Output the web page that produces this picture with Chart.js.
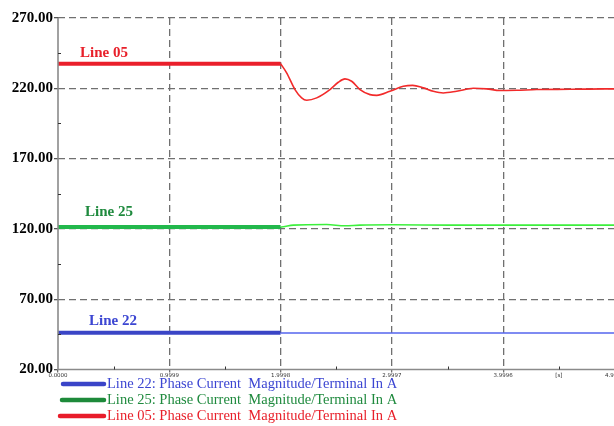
<!DOCTYPE html>
<html><head><meta charset="utf-8">
<script src="https://cdn.jsdelivr.net/npm/chart.js@4.4.1/dist/chart.umd.min.js"></script>
<style>html,body{margin:0;padding:0;overflow:hidden;background:#fff}#wrap{width:640px;height:426px}</style>
</head><body><div id="wrap"><canvas id="c" width="640" height="426"></canvas></div>
<script>
// ---- data ----
const timePre = [0, 1.9998];
const line05Pre = [237.5, 237.5];
const line25Pre = [121.3, 121.3];
const line22Pre = [46.2, 46.2];

const timePost05 = [1.9998, 2.054, 2.129, 2.189, 2.234, 2.324, 2.443, 2.518, 2.578, 2.638, 2.713, 2.803, 2.863, 2.982, 3.102, 3.186, 3.282, 3.371, 3.461, 3.581, 3.731, 3.851, 3.970, 4.120, 4.300, 4.599, 4.898, 4.9995];
const line05Post = [237.5, 231, 219.1, 213.2, 211.5, 213.2, 219.1, 224.3, 226.7, 225, 219.1, 215.5, 215, 217.9, 221.4, 222.1, 220.3, 217.9, 216.7, 217.9, 220, 219.6, 218.4, 218.6, 219.1, 219.3, 219.6, 219.6];

const timePost25 = [1.9998, 2.024, 2.114, 2.414, 2.578, 2.713, 3.012, 3.521, 4.9995];
const line25Post = [121.3, 121.5, 122.7, 123.1, 122.2, 122.7, 122.9, 122.7, 122.7];

const timePost22 = [1.9998, 4.9995];
const line22Post = [46.0, 46.0];

const yTickValues = [20, 70, 120, 170, 220, 270];
const yMinorValues = [45, 95, 145, 195, 245];
const xTickValues = [0, 0.9999, 1.9998, 2.9997, 3.9996, 4.49955, 4.9995];
const xTickLabels = ['0.0000', '0.9999', '1.9998', '2.9997', '3.9996', '[s]', '4.9995'];
const xMinorValues = [0.49995, 1.49985, 2.49975, 3.49965, 4.49955];

const seriesTags = ['Line 22', 'Line 25', 'Line 05'];
const legendNames = ['Line 22: Phase Current  Magnitude/Terminal In A',
                     'Line 25: Phase Current  Magnitude/Terminal In A',
                     'Line 05: Phase Current  Magnitude/Terminal In A'];

// ---- styling ----
const COL = {
  red: '#ea1f2b', redThin: '#f22a2a',
  green: '#22b84c', greenThin: '#3cf03c',
  blue: '#3a45c6', blueThin: '#5565ee',
  txtBlue: '#3c46d2', txtGreen: '#1f8a3e', txtRed: '#e8202a',
  legBlue: '#3a44c8', legGreen: '#1d8a3a', legRed: '#e81c2a'
};
const GRID = '#707070';
const SERIF = '"Liberation Serif", "Times New Roman", serif';

const pts = (xs, ys) => xs.map((x, i) => ({x, y: ys[i]}));

const datasets = [
  {data: pts(timePre, line05Pre), borderColor: COL.red, borderWidth: 4},
  {data: pts(timePost05, line05Post), borderColor: COL.redThin, borderWidth: 1.6, cubicInterpolationMode: 'monotone'},
  {data: pts(timePre, line25Pre), borderColor: COL.green, borderWidth: 4},
  {data: pts(timePost25, line25Post), borderColor: COL.greenThin, borderWidth: 1.6, cubicInterpolationMode: 'monotone'},
  {data: pts(timePre, line22Pre), borderColor: COL.blue, borderWidth: 4},
  {data: pts(timePost22, line22Post), borderColor: COL.blueThin, borderWidth: 1.6}
].map(d => Object.assign({pointRadius: 0, fill: false, borderCapStyle: 'butt'}, d));

const decor = {
  id: 'decor',
  afterDraw(chart) {
    const {ctx, chartArea: a, scales: {x, y}} = chart;
    ctx.save();
    // solid axes
    ctx.strokeStyle = '#8a8a8a';
    ctx.lineWidth = 1.6;
    ctx.setLineDash([]);
    ctx.beginPath();
    ctx.moveTo(a.left, a.top); ctx.lineTo(a.left, a.bottom); ctx.lineTo(a.right, a.bottom);
    ctx.stroke();
    // minor ticks
    ctx.strokeStyle = '#333';
    ctx.lineWidth = 1;
    ctx.beginPath();
    yMinorValues.forEach(v => { const py = Math.round(y.getPixelForValue(v)) + 0.5; ctx.moveTo(a.left, py); ctx.lineTo(a.left + 3, py); });
    xMinorValues.forEach(v => { const px = Math.round(x.getPixelForValue(v)) + 0.5; ctx.moveTo(px, a.bottom); ctx.lineTo(px, a.bottom - 3); });
    ctx.stroke();
    // series tags
    ctx.font = 'bold 15px ' + SERIF;
    ctx.textBaseline = 'middle';
    ctx.textAlign = 'left';
    const tags = [
      {t: seriesTags[2], c: COL.txtRed, xv: 0.198, yv: 245.2},
      {t: seriesTags[1], c: COL.txtGreen, xv: 0.243, yv: 131.6},
      {t: seriesTags[0], c: COL.txtBlue, xv: 0.279, yv: 54.6}
    ];
    tags.forEach(g => { ctx.fillStyle = g.c; ctx.fillText(g.t, x.getPixelForValue(g.xv), y.getPixelForValue(g.yv)); });
    // legend
    const legCols = [COL.legBlue, COL.legGreen, COL.legRed];
    const txtCols = [COL.txtBlue, COL.txtGreen, COL.txtRed];
    const rows = [384, 400, 416];
    const starts = [63, 62, 60];
    ctx.font = '14.5px ' + SERIF;
    legendNames.forEach((n, i) => {
      ctx.strokeStyle = legCols[i];
      ctx.lineWidth = 4.5;
      ctx.lineCap = 'round';
      ctx.beginPath(); ctx.moveTo(starts[i], rows[i]); ctx.lineTo(104, rows[i]); ctx.stroke();
      ctx.fillStyle = txtCols[i];
      ctx.fillText(n, 107, rows[i]);
    });
    ctx.restore();
  }
};

new Chart(document.getElementById('c'), {
  type: 'line',
  data: {datasets},
  options: {
    responsive: false,
    animation: false,
    devicePixelRatio: 1,
    layout: {padding: {top: 18, right: 25.5, left: 0, bottom: 0}},
    plugins: {legend: {display: false}, tooltip: {enabled: false}},
    scales: {
      x: {
        type: 'linear', min: 0, max: 4.9995,
        afterBuildTicks: s => { s.ticks = xTickValues.map(v => ({value: v})); },
        afterFit: s => { s.height = 56.5; },
        border: {display: false, dash: [7, 4]},
        grid: {
          color: c => (c.index === 0 || c.index === 5 || c.index === 6) ? 'rgba(0,0,0,0)' : GRID,
          tickColor: c => (c.index === 5) ? 'rgba(0,0,0,0)' : GRID,
          lineWidth: 1.3, tickLength: 3, drawTicks: true
        },
        ticks: {
          autoSkip: false, maxRotation: 0, padding: 0,
          font: {size: 5.5, family: 'DejaVu Sans'}, color: '#333',
          callback: (v, i) => xTickLabels[i]
        }
      },
      y: {
        type: 'linear', min: 20, max: 270,
        afterBuildTicks: s => { s.ticks = yTickValues.map(v => ({value: v})); },
        afterFit: s => { s.width = 58; },
        border: {display: false, dash: [7, 4]},
        grid: {
          color: c => (c.tick && c.tick.value === 20) ? 'rgba(0,0,0,0)' : GRID,
          tickColor: '#555', lineWidth: 1.3, tickLength: 4
        },
        ticks: {
          padding: 1, color: '#000',
          font: {size: 15, weight: 'bold', family: SERIF},
          callback: v => Number(v).toFixed(2)
        }
      }
    }
  },
  plugins: [decor]
});
</script></body></html>
